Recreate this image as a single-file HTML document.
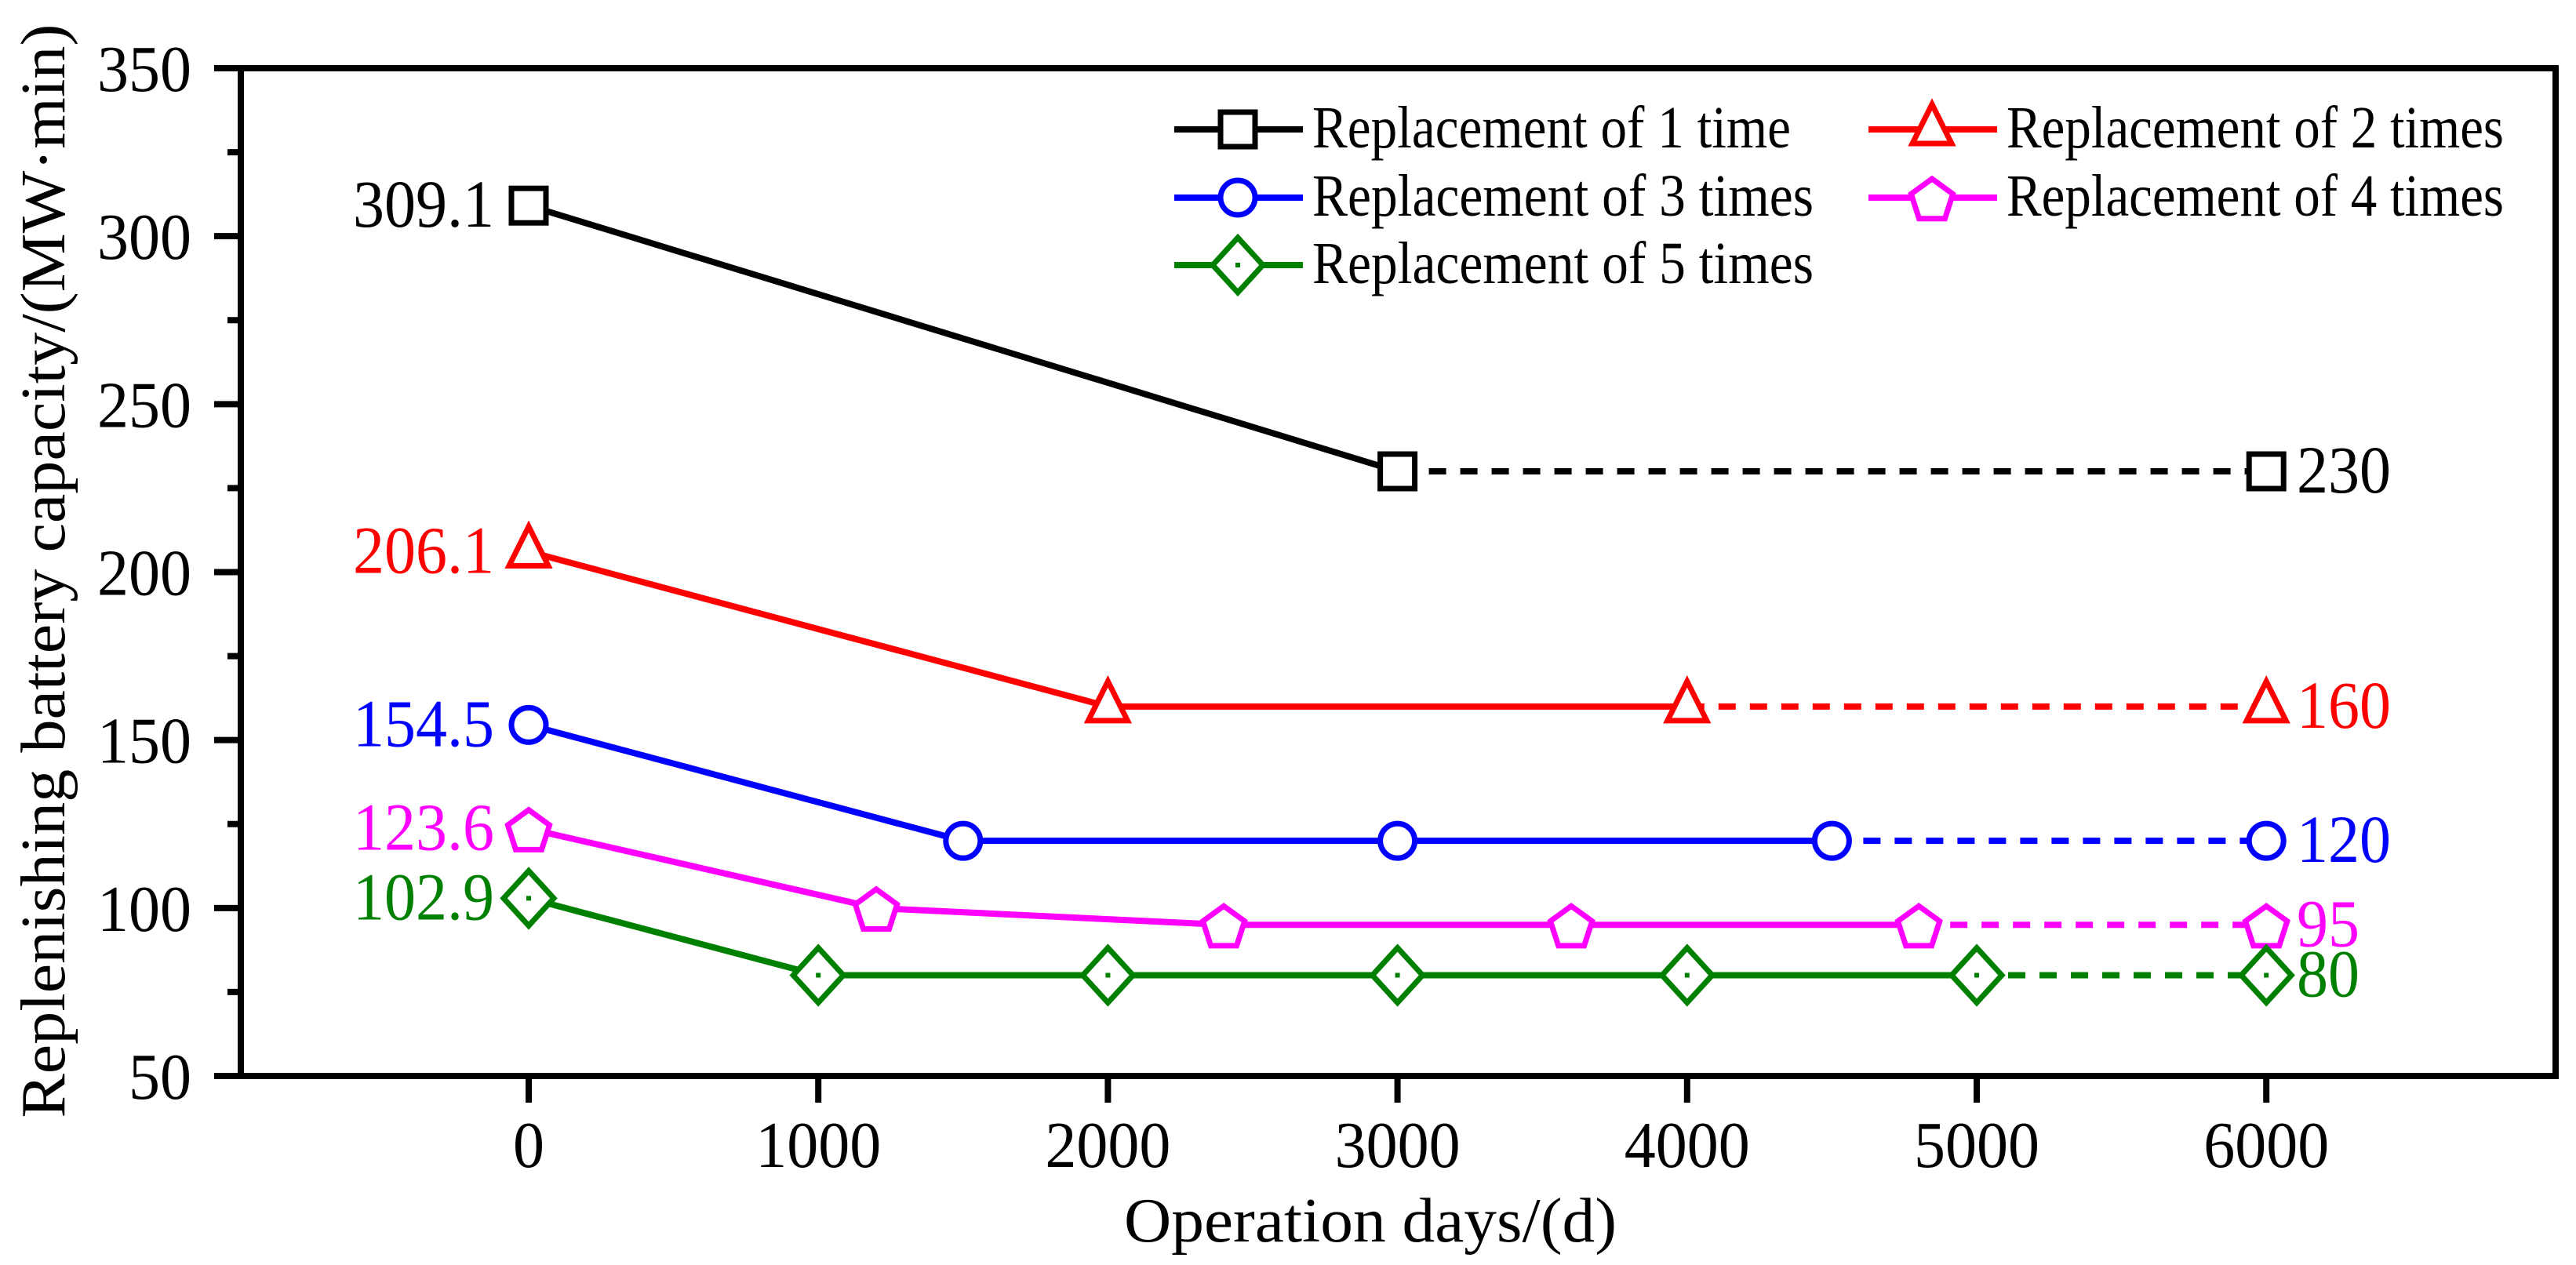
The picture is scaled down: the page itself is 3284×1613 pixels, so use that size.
<!DOCTYPE html>
<html><head><meta charset="utf-8"><style>
html,body{margin:0;padding:0;background:#fff;}
svg{display:block;font-family:"Liberation Serif",serif;}
</style></head><body>
<svg id="chart" width="3284" height="1613" viewBox="0 0 3284 1613" xmlns="http://www.w3.org/2000/svg"></svg>
<script>
const xTicks = [0,1000,2000,3000,4000,5000,6000];
const yTicks = [50,100,150,200,250,300,350];
const seriesNames = ["Replacement of 1 time","Replacement of 2 times","Replacement of 3 times","Replacement of 4 times","Replacement of 5 times"];
const s1x = [0,3000,6000];            const s1y = [309.1,230,230];
const s2x = [0,2000,4000,6000];       const s2y = [206.1,160,160,160];
const s3x = [0,1500,3000,4500,6000];  const s3y = [154.5,120,120,120,120];
const s4x = [0,1200,2400,3600,4800,6000]; const s4y = [123.6,100,95,95,95,95];
const s5x = [0,1000,2000,3000,4000,5000,6000]; const s5y = [102.9,80,80,80,80,80,80];
const startLabels = ["309.1","206.1","154.5","123.6","102.9"];
const endLabels = ["230","160","120","95","80"];

const NS="http://www.w3.org/2000/svg";
const svg=document.getElementById('chart');
const L=307,R=3258,T=87,B=1372;
const X=v=>674+(v/1000)*369.2;
const Y=v=>B-(v-50)*(B-T)/300;
function el(tag,attrs,parent){const e=document.createElementNS(NS,tag);for(const k in attrs)e.setAttribute(k,attrs[k]);(parent||svg).appendChild(e);return e;}

const colors=["#000000","#ff0000","#0000ff","#ff00ff","#008000"];
const shapes=["square","triangle","circle","pentagon","diamond"];
const xs=[s1x,s2x,s3x,s4x,s5x], ys=[s1y,s2y,s3y,s4y,s5y];

function marker(shape,cx,cy,color,parent){
  let m;
  const a={fill:"#fff",stroke:color,"stroke-width":7};
  if(shape==="square"){m=el('rect',Object.assign({x:cx-22,y:cy-22,width:44,height:44},a),parent);}
  else if(shape==="circle"){m=el('circle',Object.assign({cx:cx,cy:cy,r:22},a),parent);}
  else if(shape==="triangle"){m=el('polygon',Object.assign({points:`${cx},${cy-32} ${cx+25},${cy+18} ${cx-25},${cy+18}`},a),parent);}
  else if(shape==="pentagon"){let p=[];for(let i=0;i<5;i++){const ang=-Math.PI/2+i*2*Math.PI/5;p.push((cx+28*Math.cos(ang)).toFixed(1)+","+(cy+4+28*Math.sin(ang)).toFixed(1));}m=el('polygon',Object.assign({points:p.join(' ')},a),parent);}
  else {m=el('polygon',Object.assign({points:`${cx},${cy-35} ${cx+32},${cy} ${cx},${cy+35} ${cx-32},${cy}`},a),parent);
    const d=el('rect',{x:cx-3,y:cy-3,width:6,height:6,fill:color},parent);
    
    }
  return m;
}

for(let s=0;s<5;s++){
  const g=el('g',{});
  
  
  const px=xs[s],py=ys[s],n=px.length;
  let pts=[];for(let i=0;i<n-1;i++)pts.push(X(px[i])+","+Y(py[i]));
  const solid=el('polyline',{points:pts.join(' '),fill:"none",stroke:colors[s],"stroke-width":8},g);
  
  
  const dash=el('line',{x1:X(px[n-2]),y1:Y(py[n-2]),x2:X(px[n-1]),y2:Y(py[n-1]),stroke:colors[s],"stroke-width":8,"stroke-dasharray":"22,18"},g);
  
  
  for(let i=0;i<n;i++){
    const m=marker(shapes[s],X(px[i]),Y(py[i]),colors[s],g);
    
    
  }
  const sl=startLabels[s];
  const t1=el('text',{x:630,y:Y(py[0])+27,"text-anchor":"end","font-size":86,fill:colors[s],textLength:sl.length*36,lengthAdjust:"spacingAndGlyphs"},g);
  t1.textContent=sl;
  
  
  const el2=endLabels[s];
  const t2=el('text',{x:2928,y:Y(py[n-1])+27,"font-size":86,fill:colors[s],textLength:el2.length*40,lengthAdjust:"spacingAndGlyphs"},g);
  t2.textContent=el2;
  
  
}

const frame=el('rect',{x:L,y:T,width:R-L,height:B-T,fill:"none",stroke:"#000","stroke-width":8});



for(let v=50;v<=350;v+=25){
  const major=(v%50===0);
  const t=el('line',{x1:L-(major?34:17),x2:L,y1:Y(v),y2:Y(v),stroke:"#000","stroke-width":8});
  
  
}
yTicks.forEach(v=>{
  const s=String(v);
  const t=el('text',{x:244,y:Y(v)+29,"text-anchor":"end","font-size":84,fill:"#000",textLength:s.length*40,lengthAdjust:"spacingAndGlyphs"});
  t.textContent=s;
  
  
});
xTicks.forEach(v=>{
  const l=el('line',{x1:X(v),x2:X(v),y1:B,y2:B+34,stroke:"#000","stroke-width":8});
  
  
  const s=String(v);
  const t=el('text',{x:X(v),y:1488,"text-anchor":"middle","font-size":84,fill:"#000",textLength:s.length*40,lengthAdjust:"spacingAndGlyphs"});
  t.textContent=s;
  
  
});
const xt=el('text',{x:1747,y:1583,"text-anchor":"middle","font-size":80,fill:"#000",textLength:628,lengthAdjust:"spacingAndGlyphs"});
xt.textContent="Operation days/(d)";


const yt=el('text',{x:0,y:0,"text-anchor":"middle","font-size":80,fill:"#000",transform:"translate(82,728) rotate(-90)",textLength:1395,lengthAdjust:"spacingAndGlyphs"});
yt.textContent="Replenishing battery capacity/(MW·min)";



const legPos=[[1497,165],[2382,165],[1497,252],[2382,252],[1497,338]];
const legLen=[610,634,639,634,639];
const lg=el('g',{});


for(let s=0;s<5;s++){
  const [lx,ly]=legPos[s];
  const ln=el('line',{x1:lx,x2:lx+164,y1:ly,y2:ly,stroke:colors[s],"stroke-width":8},lg);
  
  
  const m=marker(shapes[s],lx+81,ly,colors[s],lg);
  
  
  const t=el('text',{x:lx+176,y:ly+23,"font-size":76,fill:"#000",textLength:legLen[s],lengthAdjust:"spacingAndGlyphs"},lg);
  t.textContent=seriesNames[s];
  
  
}
</script>
</body></html>
